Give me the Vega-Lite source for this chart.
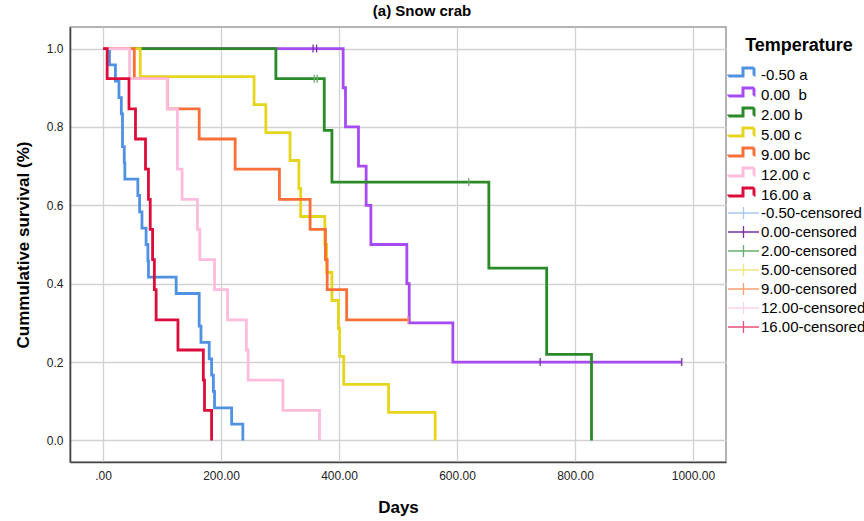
{
  "$schema": "https://vega.github.io/schema/vega-lite/v6.json",
  "width": 656,
  "height": 435,
  "autosize": {"type": "none"},
  "padding": {"left": 70, "top": 27, "right": 138, "bottom": 59},
  "background": "white",
  "title": {
    "text": "(a) Snow crab",
    "font": "Liberation Sans",
    "fontSize": 15,
    "fontWeight": "bold",
    "color": "#000000",
    "anchor": "middle",
    "dx": 24,
    "offset": 8
  },
  "datasets": {
    "curves": [
      {"group": "-0.50 a", "day": 0, "surv": 1},
      {"group": "-0.50 a", "day": 11, "surv": 0.9583},
      {"group": "-0.50 a", "day": 21, "surv": 0.9167},
      {"group": "-0.50 a", "day": 27, "surv": 0.875},
      {"group": "-0.50 a", "day": 31, "surv": 0.8333},
      {"group": "-0.50 a", "day": 33, "surv": 0.75},
      {"group": "-0.50 a", "day": 36, "surv": 0.7083},
      {"group": "-0.50 a", "day": 37, "surv": 0.6667},
      {"group": "-0.50 a", "day": 59, "surv": 0.625},
      {"group": "-0.50 a", "day": 62, "surv": 0.5833},
      {"group": "-0.50 a", "day": 66, "surv": 0.5417},
      {"group": "-0.50 a", "day": 73, "surv": 0.5},
      {"group": "-0.50 a", "day": 76, "surv": 0.4583},
      {"group": "-0.50 a", "day": 77, "surv": 0.4167},
      {"group": "-0.50 a", "day": 124, "surv": 0.375},
      {"group": "-0.50 a", "day": 163, "surv": 0.2917},
      {"group": "-0.50 a", "day": 166, "surv": 0.25},
      {"group": "-0.50 a", "day": 180, "surv": 0.2083},
      {"group": "-0.50 a", "day": 184, "surv": 0.1667},
      {"group": "-0.50 a", "day": 187, "surv": 0.125},
      {"group": "-0.50 a", "day": 189, "surv": 0.0833},
      {"group": "-0.50 a", "day": 218, "surv": 0.0417},
      {"group": "-0.50 a", "day": 237, "surv": 0},
      {"group": "0.00\u00a0 b", "day": 0, "surv": 1},
      {"group": "0.00\u00a0 b", "day": 407, "surv": 0.9},
      {"group": "0.00\u00a0 b", "day": 411, "surv": 0.8},
      {"group": "0.00\u00a0 b", "day": 433, "surv": 0.7},
      {"group": "0.00\u00a0 b", "day": 446, "surv": 0.6},
      {"group": "0.00\u00a0 b", "day": 454, "surv": 0.5},
      {"group": "0.00\u00a0 b", "day": 515, "surv": 0.4},
      {"group": "0.00\u00a0 b", "day": 519, "surv": 0.3},
      {"group": "0.00\u00a0 b", "day": 593, "surv": 0.2},
      {"group": "0.00\u00a0 b", "day": 981, "surv": 0.2},
      {"group": "2.00 b", "day": 0, "surv": 1},
      {"group": "2.00 b", "day": 293, "surv": 0.9231},
      {"group": "2.00 b", "day": 375, "surv": 0.7912},
      {"group": "2.00 b", "day": 388, "surv": 0.6593},
      {"group": "2.00 b", "day": 654, "surv": 0.4396},
      {"group": "2.00 b", "day": 752, "surv": 0.2198},
      {"group": "2.00 b", "day": 828, "surv": 0},
      {"group": "5.00 c", "day": 0, "surv": 1},
      {"group": "5.00 c", "day": 63, "surv": 0.9286},
      {"group": "5.00 c", "day": 256, "surv": 0.8571},
      {"group": "5.00 c", "day": 276, "surv": 0.7857},
      {"group": "5.00 c", "day": 317, "surv": 0.7143},
      {"group": "5.00 c", "day": 332, "surv": 0.6429},
      {"group": "5.00 c", "day": 335, "surv": 0.5714},
      {"group": "5.00 c", "day": 376, "surv": 0.5},
      {"group": "5.00 c", "day": 379, "surv": 0.4286},
      {"group": "5.00 c", "day": 388, "surv": 0.3571},
      {"group": "5.00 c", "day": 399, "surv": 0.2857},
      {"group": "5.00 c", "day": 401, "surv": 0.2143},
      {"group": "5.00 c", "day": 408, "surv": 0.1429},
      {"group": "5.00 c", "day": 484, "surv": 0.0714},
      {"group": "5.00 c", "day": 563, "surv": 0},
      {"group": "9.00 bc", "day": 0, "surv": 1},
      {"group": "9.00 bc", "day": 53, "surv": 0.9231},
      {"group": "9.00 bc", "day": 109, "surv": 0.8462},
      {"group": "9.00 bc", "day": 163, "surv": 0.7692},
      {"group": "9.00 bc", "day": 224, "surv": 0.6923},
      {"group": "9.00 bc", "day": 299, "surv": 0.6154},
      {"group": "9.00 bc", "day": 351, "surv": 0.5385},
      {"group": "9.00 bc", "day": 377, "surv": 0.4615},
      {"group": "9.00 bc", "day": 380, "surv": 0.3846},
      {"group": "9.00 bc", "day": 413, "surv": 0.3077},
      {"group": "9.00 bc", "day": 517, "surv": 0.3077},
      {"group": "12.00 c", "day": 0, "surv": 1},
      {"group": "12.00 c", "day": 45, "surv": 0.9231},
      {"group": "12.00 c", "day": 109, "surv": 0.8462},
      {"group": "12.00 c", "day": 126, "surv": 0.6923},
      {"group": "12.00 c", "day": 134, "surv": 0.6154},
      {"group": "12.00 c", "day": 160, "surv": 0.5385},
      {"group": "12.00 c", "day": 164, "surv": 0.4615},
      {"group": "12.00 c", "day": 189, "surv": 0.3846},
      {"group": "12.00 c", "day": 211, "surv": 0.3077},
      {"group": "12.00 c", "day": 243, "surv": 0.2308},
      {"group": "12.00 c", "day": 246, "surv": 0.1538},
      {"group": "12.00 c", "day": 305, "surv": 0.0769},
      {"group": "12.00 c", "day": 367, "surv": 0},
      {"group": "16.00 a", "day": 0, "surv": 1},
      {"group": "16.00 a", "day": 7, "surv": 0.9231},
      {"group": "16.00 a", "day": 44, "surv": 0.8462},
      {"group": "16.00 a", "day": 55, "surv": 0.7692},
      {"group": "16.00 a", "day": 72, "surv": 0.6923},
      {"group": "16.00 a", "day": 77, "surv": 0.6154},
      {"group": "16.00 a", "day": 80, "surv": 0.5385},
      {"group": "16.00 a", "day": 84, "surv": 0.4615},
      {"group": "16.00 a", "day": 87, "surv": 0.3846},
      {"group": "16.00 a", "day": 90, "surv": 0.3077},
      {"group": "16.00 a", "day": 127, "surv": 0.2308},
      {"group": "16.00 a", "day": 170, "surv": 0.1538},
      {"group": "16.00 a", "day": 172, "surv": 0.0769},
      {"group": "16.00 a", "day": 184, "surv": 0}
    ],
    "censored": [
      {"group": "0.00-censored", "day": 356, "surv": 1},
      {"group": "0.00-censored", "day": 362, "surv": 1},
      {"group": "0.00-censored", "day": 741, "surv": 0.2},
      {"group": "0.00-censored", "day": 981, "surv": 0.2},
      {"group": "2.00-censored", "day": 358, "surv": 0.9231},
      {"group": "2.00-censored", "day": 363, "surv": 0.9231},
      {"group": "2.00-censored", "day": 620, "surv": 0.6593},
      {"group": "9.00-censored", "day": 517, "surv": 0.3077}
    ]
  },
  "encoding": {
    "x": {
      "field": "day",
      "type": "quantitative",
      "title": "Days",
      "scale": {"domain": [-56, 1056], "nice": false, "zero": false},
      "axis": {
        "values": [0, 200, 400, 600, 800, 1000],
        "labelExpr": "datum.value === 0 ? '.00' : format(datum.value, '.2f')",
        "labelPadding": 8,
        "titlePadding": 18
      }
    },
    "y": {
      "field": "surv",
      "type": "quantitative",
      "title": "Cummulative survival (%)",
      "scale": {"domain": [-0.055, 1.055], "nice": false, "zero": false},
      "axis": {
        "values": [0, 0.2, 0.4, 0.6, 0.8, 1],
        "format": ".1f",
        "labelPadding": 7,
        "titlePadding": 14
      }
    },
    "color": {
      "field": "group",
      "type": "nominal",
      "scale": {
        "domain": [
          "-0.50 a", "0.00\u00a0 b", "2.00 b", "5.00 c", "9.00 bc", "12.00 c", "16.00 a",
          "-0.50-censored", "0.00-censored", "2.00-censored", "5.00-censored",
          "9.00-censored", "12.00-censored", "16.00-censored"
        ],
        "range": [
          "#4f91e3", "#a64bf4", "#2a8a2a", "#e6d51c", "#f86f38", "#ffbcdc", "#dc0d3a",
          "#a6c8f0", "#7a2ea0", "#6aae6a", "#efe680", "#f9a070", "#ffd3e8", "#e8507a"
        ]
      },
      "legend": {
        "title": "Temperature",
        "orient": "none",
        "legendX": 663,
        "legendY": 10,
        "titleFont": "Liberation Sans",
        "titleFontSize": 18,
        "titleFontWeight": "bold",
        "titleColor": "#000000",
        "titleAnchor": "middle",
        "titlePadding": 12,
        "labelFont": "Liberation Sans",
        "labelFontSize": 15,
        "labelColor": "#000000",
        "labelOffset": 12,
        "labelLimit": 200,
        "symbolSize": 196,
        "symbolStrokeWidth": 1.3,
        "rowPadding": 1,
        "encode": {
          "symbols": {
            "update": {
              "shape": {"signal": "indexof(datum.value, 'censored') >= 0 ? 'M-1.857,0H2.571M0.357,-0.857V0.857' : 'M-1.977,0.02H0.166V-1.12H1.737V0.02M-1.857,0.14H0.286V-1H1.857V0.14M-1.737,0.26H0.406V-0.88H1.977V0.26'"},
              "fill": {"value": "transparent"}
            }
          }
        }
      }
    }
  },
  "layer": [
    {
      "data": {"name": "curves"},
      "mark": {"type": "line", "interpolate": "step-after", "strokeWidth": 2.8},
      "encoding": {}
    },
    {
      "data": {"name": "censored"},
      "mark": {
        "type": "point",
        "shape": "M0,-1V1",
        "size": 64,
        "filled": false,
        "strokeWidth": 1.3,
        "opacity": 1
      }
    }
  ],
  "config": {
    "font": "Liberation Sans",
    "view": {"stroke": "#9a9a9a", "strokeWidth": 1.5},
    "axis": {
      "grid": true,
      "gridColor": "#d2d2d2",
      "gridWidth": 1.3,
      "ticks": false,
      "domainColor": "#444444",
      "domainWidth": 1.6,
      "labelFont": "Liberation Sans",
      "labelFontSize": 12,
      "labelColor": "#222222",
      "titleFont": "Liberation Sans",
      "titleFontSize": 17,
      "titleFontWeight": "bold",
      "titleColor": "#000000"
    }
  }
}
